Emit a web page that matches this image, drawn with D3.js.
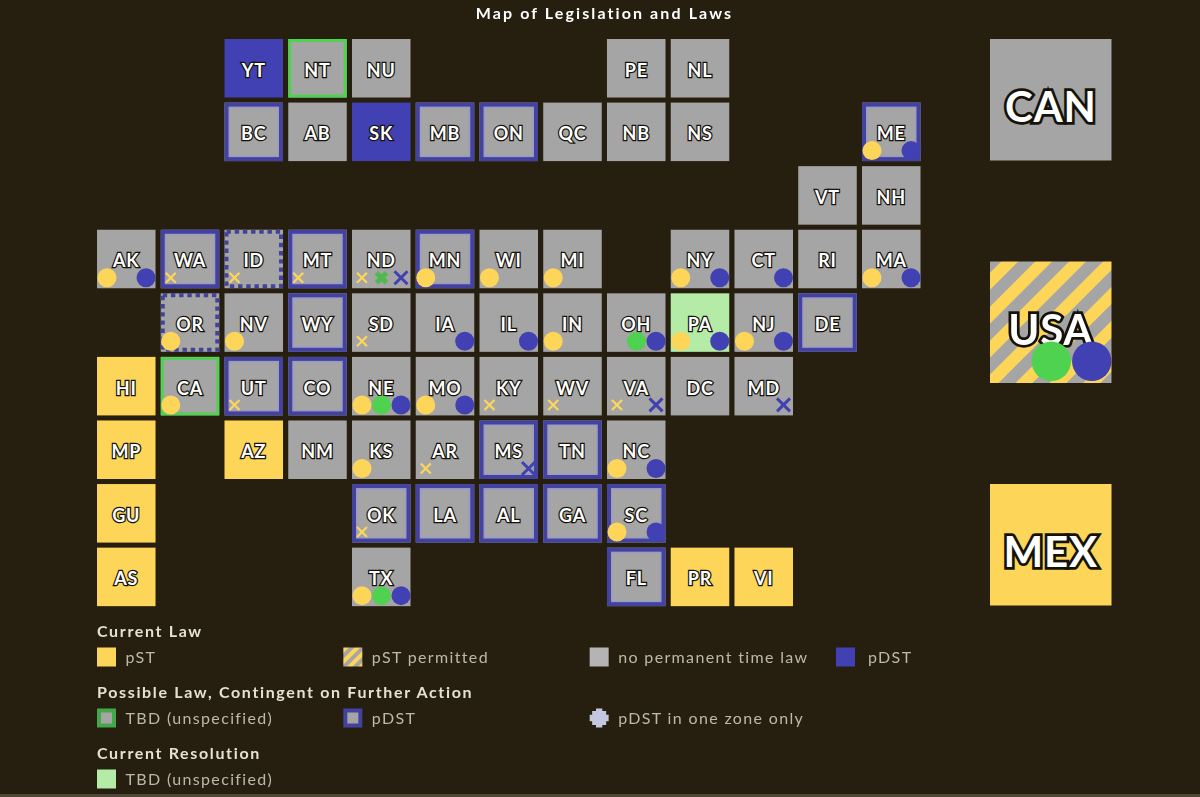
<!DOCTYPE html>
<html>
<head>
<meta charset="utf-8">
<script src="https://cdn.jsdelivr.net/npm/d3@7"></script>
<style>
  html, body { margin: 0; padding: 0; background: #261f0f; }
  svg { display: block; filter: blur(0.6px); font-family: Lato, sans-serif; }
  .tile-label { fill: #fff; stroke: #15120a; paint-order: stroke; font-weight: 700; text-anchor: middle; dominant-baseline: central; letter-spacing: 0.8px; }
  .legend-head { fill: #e6e2d2; font-size: 16px; font-weight: 700; letter-spacing: 1.65px; }
  .legend-text { fill: #bdb9a8; font-size: 16px; letter-spacing: 1.35px; }
</style>
</head>
<body>
<div class="map"></div>
<script>
// tile grid, one list per row, blanks are empty cells
var gridRows = [
  ["", "", "YT", "NT", "NU", "", "", "", "PE", "NL", "", "", ""],
  ["", "", "BC", "AB", "SK", "MB", "ON", "QC", "NB", "NS", "", "", "ME"],
  ["", "", "", "", "", "", "", "", "", "", "", "VT", "NH"],
  ["AK", "WA", "ID", "MT", "ND", "MN", "WI", "MI", "", "NY", "CT", "RI", "MA"],
  ["", "OR", "NV", "WY", "SD", "IA", "IL", "IN", "OH", "PA", "NJ", "DE", ""],
  ["HI", "CA", "UT", "CO", "NE", "MO", "KY", "WV", "VA", "DC", "MD", "", ""],
  ["MP", "", "AZ", "NM", "KS", "AR", "MS", "TN", "NC", "", "", "", ""],
  ["GU", "", "", "", "OK", "LA", "AL", "GA", "SC", "", "", "", ""],
  ["AS", "", "", "", "TX", "", "", "", "FL", "PR", "VI", "", ""]
];
var countries = ["CAN", "USA", "MEX"];

// current law / resolution fills
var pstFill = ["HI", "MP", "GU", "AS", "AZ", "PR", "VI", "MEX"];
var pdstFill = ["YT", "SK"];
var permittedFill = ["USA"];
var resolutionFill = ["PA"];

// contingent law borders
var pdstBorder = ["BC", "MB", "ON", "ME", "WA", "MT", "MN", "WY", "DE", "UT", "CO", "MS", "TN", "OK", "LA", "AL", "GA", "SC", "FL"];
var dottedBorder = ["ID", "OR"];
var tbdBorder = ["NT", "CA"];

// bill markers
var pstDots = ["ME", "AK", "MN", "WI", "MI", "NY", "MA", "OR", "NV", "IN", "PA", "NJ", "CA", "NE", "MO", "KS", "NC", "SC", "TX"];
var pstCrosses = ["WA", "ID", "MT", "ND", "SD", "UT", "KY", "WV", "VA", "AR", "OK"];
var tbdDots = ["OH", "NE", "TX", "USA"];
var tbdCrosses = ["ND"];
var pdstDots = ["ME", "AK", "NY", "CT", "MA", "IA", "IL", "OH", "PA", "NJ", "NE", "MO", "NC", "SC", "TX", "USA"];
var pdstCrosses = ["ND", "VA", "MD", "MS"];

var legendGroups = ["Current Law", "Possible Law, Contingent on Further Action", "Current Resolution"];
var legendItems = [
  [["pST", "pst"], ["pST permitted", "permitted"], ["no permanent time law", "none"], ["pDST", "pdst"]],
  [["TBD (unspecified)", "tbdBorder"], ["pDST", "pdstBorder"], ["pDST in one zone only", "oneZone"]],
  [["TBD (unspecified)", "resolution"]]
];

var colors = { gray: "#a5a5a5", yellow: "#fdd659", blue: "#4141b3", green: "#4fd24f", light: "#b4eba6" };

var width = 1200, height = 797;
var svg = d3.select(".map").append("svg")
  .attr("width", width)
  .attr("height", height);

var defs = svg.append("defs");
function addStripes(id, size, shift) {
  var p = defs.append("pattern")
    .attr("id", id)
    .attr("patternUnits", "userSpaceOnUse")
    .attr("width", size)
    .attr("height", size)
    .attr("patternTransform", "translate(" + shift + ",0) rotate(45)");
  p.append("rect").attr("width", size).attr("height", size).attr("fill", colors.gray);
  p.append("rect").attr("width", size / 2).attr("height", size).attr("fill", colors.yellow);
}
addStripes("stripes", 24, 11.2);
addStripes("stripes-small", 8, 0);

// scales
var x = d3.scaleBand().domain(d3.range(13)).range([97, 920.5]).paddingInner(0.082);
var y = d3.scaleBand().domain(d3.range(9)).range([39, 606]).paddingInner(0.082);
var yCountry = d3.scalePoint().domain(countries).range([39, 484]);
var slot = d3.scalePoint().domain(["pst", "tbd", "pdst"]).range([10, 49]);

function fillFor(name) {
  if (pstFill.includes(name)) return colors.yellow;
  if (pdstFill.includes(name)) return colors.blue;
  if (permittedFill.includes(name)) return "url(#stripes)";
  if (resolutionFill.includes(name)) return colors.light;
  return colors.gray;
}

function drawCross(g, cx, cy, r, color, w) {
  [[-1, 1], [1, 1]].forEach(function(d) {
    g.append("line")
      .attr("x1", cx - r * d[0]).attr("y1", cy - r * d[1])
      .attr("x2", cx + r * d[0]).attr("y2", cy + r * d[1])
      .attr("stroke", color)
      .attr("stroke-width", w);
  });
}

function drawTile(name, left, top, size, fontSize, outline) {
  var k = size / 58.5;
  var g = svg.append("g").attr("transform", "translate(" + left + "," + top + ")");

  g.append("rect")
    .attr("width", size)
    .attr("height", size)
    .attr("fill", fillFor(name));

  // inset border for contingent laws, pale inner edge on the blue ones
  if (pdstBorder.includes(name)) {
    g.append("rect")
      .attr("x", 4.5).attr("y", 4.5)
      .attr("width", size - 9).attr("height", size - 9)
      .attr("fill", "none")
      .attr("stroke", "#9a9ac8")
      .attr("stroke-width", 2);
  }
  var border = null, dash = null, bw = 4;
  if (pdstBorder.includes(name)) border = "#43439f";
  if (tbdBorder.includes(name)) { border = colors.green; bw = 3; }
  if (dottedBorder.includes(name)) { border = "#43439a"; dash = "4.4 3.8"; }
  if (border) {
    g.append("rect")
      .attr("x", bw / 2).attr("y", bw / 2)
      .attr("width", size - bw).attr("height", size - bw)
      .attr("fill", "none")
      .attr("stroke", border)
      .attr("stroke-width", bw)
      .attr("stroke-dasharray", dash);
  }

  g.append("text")
    .attr("class", "tile-label")
    .attr("x", size / 2)
    .attr("y", size / 2 + 1.5 * k * k)
    .attr("font-size", fontSize)
    .attr("stroke-width", outline)
    .text(name);

  var my = 48 * k, r = 9.5 * k;
  function dot(key, color) {
    g.append("circle").attr("cx", slot(key) * k).attr("cy", my).attr("r", r).attr("fill", color);
  }
  if (pstDots.includes(name)) dot("pst", colors.yellow);
  if (tbdDots.includes(name)) dot("tbd", colors.green);
  if (pdstDots.includes(name)) dot("pdst", colors.blue);
  if (pstCrosses.includes(name)) drawCross(g, slot("pst"), my, 5, colors.yellow, 2.2);
  if (tbdCrosses.includes(name)) drawCross(g, slot("tbd"), my, 5, "#4fb84f", 5);
  if (pdstCrosses.includes(name)) drawCross(g, slot("pdst"), my, 6.5, colors.blue, 3);
}

gridRows.forEach(function(row, j) {
  row.forEach(function(name, i) {
    if (name) drawTile(name, x(i), y(j), x.bandwidth(), 18, 2.5);
  });
});
countries.forEach(function(name) {
  drawTile(name, 990, yCountry(name), 121.5, 42, 5.5);
});

// title
svg.append("text")
  .attr("x", 604.5)
  .attr("y", 19)
  .attr("text-anchor", "middle")
  .attr("fill", "#fff")
  .attr("font-size", 16)
  .attr("font-weight", 700)
  .attr("letter-spacing", 2.1)
  .text("Map of Legislation and Laws");

// legend
var legendX = d3.scalePoint().domain(d3.range(4)).range([97, 836]);
var legendY = d3.scalePoint().domain(legendGroups).range([637, 759]);

function drawSwatch(g, kind) {
  var s = 19;
  var fills = { pst: colors.yellow, permitted: "url(#stripes-small)", none: "#b4b4b4", pdst: colors.blue, resolution: colors.light };
  if (kind === "oneZone") {
    g.append("rect").attr("x", 2.5).attr("y", 2.5).attr("width", s - 5).attr("height", s - 5).attr("fill", "#c3c7e2");
    g.append("path")
      .attr("transform", "translate(" + s / 2 + "," + s / 2 + ")")
      .attr("d", d3.symbol(d3.symbolCross, 200)())
      .attr("fill", "#c3c7e2");
    return;
  }
  if (kind === "tbdBorder" || kind === "pdstBorder") {
    g.append("rect")
      .attr("x", 2).attr("y", 2)
      .attr("width", s - 4).attr("height", s - 4)
      .attr("fill", colors.gray)
      .attr("stroke", kind === "tbdBorder" ? "#45a848" : "#43439f")
      .attr("stroke-width", 4);
    return;
  }
  g.append("rect").attr("width", s).attr("height", s).attr("fill", fills[kind]);
}

legendGroups.forEach(function(head, j) {
  svg.append("text")
    .attr("class", "legend-head")
    .attr("x", 97)
    .attr("y", legendY(head))
    .text(head);

  legendItems[j].forEach(function(item, i) {
    var g = svg.append("g")
      .attr("transform", "translate(" + legendX(i) + "," + (legendY(head) + 10.5) + ")");
    drawSwatch(g, item[1]);
    g.append("text")
      .attr("class", "legend-text")
      .attr("x", i === 3 ? 32 : 28.5)
      .attr("y", 15)
      .text(item[0]);
  });
});

// pale strip along the bottom edge of the picture
svg.append("rect")
  .attr("y", height - 3)
  .attr("width", width)
  .attr("height", 3)
  .attr("fill", "#4f4936");
</script>
</body>
</html>
